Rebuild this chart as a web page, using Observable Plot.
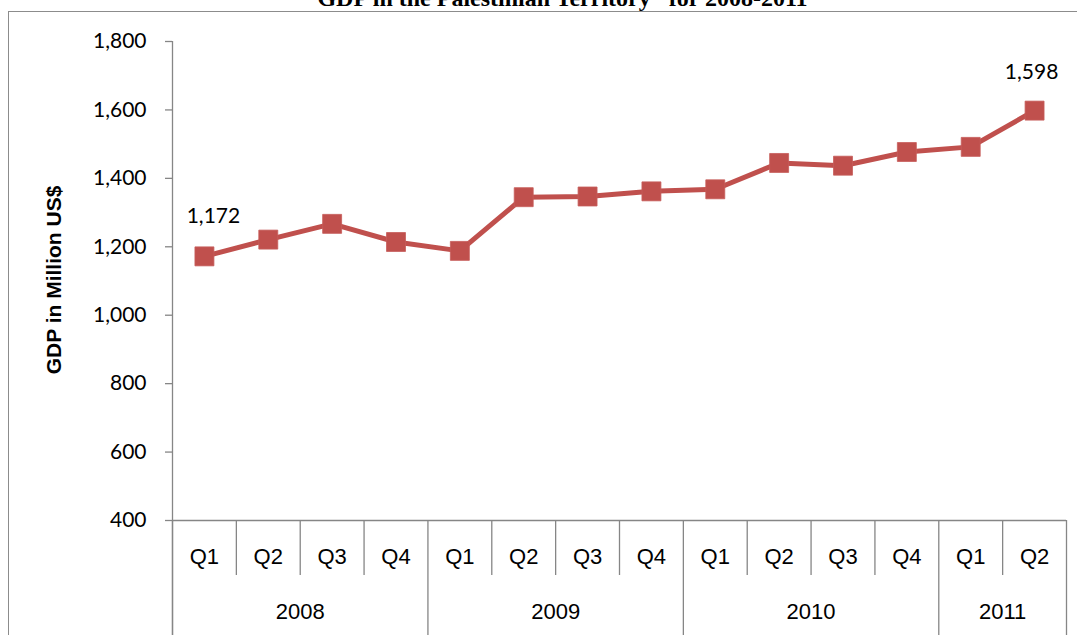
<!DOCTYPE html>
<html>
<head>
<meta charset="utf-8">
<script src="https://cdn.jsdelivr.net/npm/d3@7"></script>
<script src="https://cdn.jsdelivr.net/npm/@observablehq/plot@0.6"></script>
<style>
  body { margin: 0; background: white; }
  #wrap { position: relative; width: 1077px; height: 635px; overflow: hidden; background: white; }
  #border { position: absolute; left: 8px; top: 11px; right: -2px; bottom: -2px;
            border-top: 1.5px solid #8c8c8c; border-left: 1.5px solid #8c8c8c; }
  #chart { position: absolute; left: 0; top: 0; }
</style>
</head>
<body>
<div id="wrap"><div id="border"></div><div id="chart"></div></div>
<script>
const title = "GDP in the Palestinian Territory* for 2008-2011";
const yTitle = "GDP in Million US$";
const years = ["2008", "2009", "2010", "2011"];
const yearQuarterCounts = [4, 4, 4, 2];
const quarters = ["Q1","Q2","Q3","Q4","Q1","Q2","Q3","Q4","Q1","Q2","Q3","Q4","Q1","Q2"];
const gdp = [1172, 1221, 1267, 1214, 1188, 1345, 1347, 1362, 1368, 1445, 1437, 1477, 1492, 1598];
const yTicks = [400, 600, 800, 1000, 1200, 1400, 1600, 1800];

const data = gdp.map((v, i) => ({i, q: quarters[i], v}));
const n = data.length;
const first = [data[0]];
const last = [data[n - 1]];

// year groups
let start = 0;
const yearData = years.map((y, k) => {
  const s = start; start += yearQuarterCounts[k];
  return {year: y, start: s, end: start};
});
const yearEdges = [...new Set(yearData.flatMap(d => [d.start, d.end]))];
const quarterEdges = d3.range(1, n).filter(e => !yearEdges.includes(e));

const W = 1077, H = 635, mt = 41, mb = 115, ml = 172, mr = 11;
const frameH = H - mt - mb;
const red = "#C0504D", gray = "#868686";
const numFont = "Lato, 'Open Sans', sans-serif";
const arial = "'Liberation Sans', Arial, sans-serif";
const fmt = d3.format(",");

const chart = Plot.plot({
  width: W, height: H,
  marginTop: mt, marginBottom: mb, marginLeft: ml, marginRight: mr,
  style: {background: "transparent", overflow: "visible", color: "black"},
  x: {domain: [0, n], axis: null},
  y: {domain: [400, 1800], axis: null},
  marks: [
    Plot.text([title], {frameAnchor: "top", dy: -36, dx: -57, lineAnchor: "bottom",
      fontFamily: "'Liberation Serif', 'Times New Roman', serif", fontWeight: "bold", fontSize: 24, fill: "black"}),
    Plot.axisY({ticks: yTicks, tickFormat: fmt, tickSize: 7, tickPadding: 19, stroke: gray, strokeWidth: 1.3,
      fontFamily: numFont, fontSize: 21, fill: "black", label: null}),
    Plot.text([yTitle], {frameAnchor: "left", textAnchor: "middle", dx: -118, dy: -1, rotate: -90, fontFamily: arial,
      fontWeight: "bold", fontSize: 21, fill: "black"}),
    Plot.ruleX([0], {stroke: gray, strokeWidth: 1.3, insetBottom: -mb}),
    Plot.ruleY([400], {stroke: gray, strokeWidth: 1.3}),
    Plot.ruleX(yearEdges, {x: d => d, stroke: gray, strokeWidth: 1.3, insetTop: frameH, insetBottom: -mb}),
    Plot.ruleX(quarterEdges, {x: d => d, stroke: gray, strokeWidth: 1.3, insetTop: frameH, insetBottom: -55}),
    Plot.text(data, {x: d => d.i + 0.5, text: "q", frameAnchor: "bottom", dy: 43,
      fontFamily: arial, fontSize: 22, fill: "black"}),
    Plot.text(yearData, {x: d => (d.start + d.end) / 2, text: "year", frameAnchor: "bottom", dy: 98,
      fontFamily: arial, fontSize: 22, fill: "black"}),
    Plot.line(data, {x: d => d.i + 0.5, y: "v", stroke: red, strokeWidth: 5}),
    Plot.dot(data, {x: d => d.i + 0.5, y: "v", symbol: "square", r: 10.7, fill: red, stroke: "#c65d5a", strokeWidth: 0.8}),
    Plot.text(first, {x: d => d.i + 0.5, y: "v", text: d => fmt(d.v), dx: 9, dy: -40,
      fontFamily: numFont, fontSize: 21, fill: "black"}),
    Plot.text(last, {x: d => d.i + 0.5, y: "v", text: d => fmt(d.v), dx: -3, dy: -38,
      fontFamily: numFont, fontSize: 21, fill: "black"})
  ]
});
document.getElementById("chart").appendChild(chart);
</script>
</body>
</html>
